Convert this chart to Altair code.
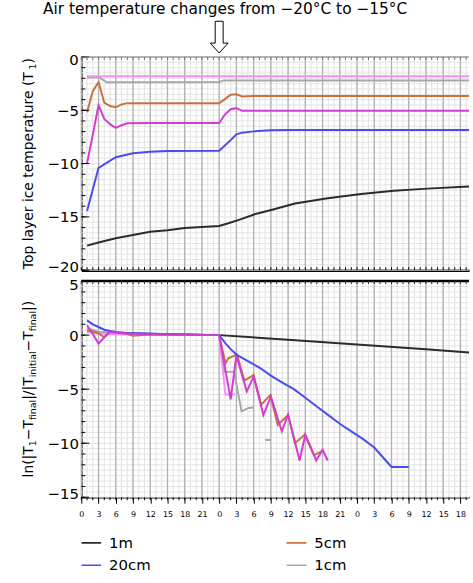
import altair as alt
import pandas as pd

FONT = "DejaVu Sans"

# ---------------- categories / colours ----------------
SERIES = ["1m", "5cm", "20cm", "1cm", "10cm", "2cm"]
COLORS = ["#2b2b2b", "#c8733c", "#4b4bf0", "#a8a8a8", "#d23cd2", "#f590f5"]
LEG_COL = [0, 1, 0, 1, 0, 1]
LEG_ROW = [0, 0, 1, 1, 2, 2]

# ---------------- top panel: temperature (deg C) vs hours ----------------
T_1M_H = [1, 3, 6, 9, 12, 15, 18, 21, 24, 25.6, 27.7, 30.5, 33.4, 37.2, 42.9, 48.7, 54.4, 60.2, 67.5]
T_1M_V = [-17.7, -17.4, -17.0, -16.7, -16.4, -16.25, -16.05, -15.95, -15.85, -15.6, -15.23, -14.7, -14.3, -13.75, -13.25, -12.85, -12.55, -12.35, -12.15]

T_20_H = [1, 3, 6, 9, 12, 15, 24, 25, 26, 27, 28, 30, 33, 36, 67.5]
T_20_V = [-14.45, -10.4, -9.4, -9.03, -8.88, -8.82, -8.8, -8.3, -7.8, -7.25, -7.1, -6.98, -6.88, -6.85, -6.85]

T_10_H = [1, 2, 3, 4, 5, 6, 7, 8, 12, 24, 25, 26, 27, 28, 30, 67.5]
T_10_V = [-9.98, -7.3, -4.52, -5.81, -6.3, -6.65, -6.4, -6.22, -6.2, -6.2, -5.4, -4.9, -4.8, -5.05, -5.05, -5.05]

T_5_H = [1, 2, 3, 4, 5, 6, 7, 8, 24, 25, 26, 27, 28, 30, 67.5]
T_5_V = [-5.19, -3.2, -2.36, -4.28, -4.6, -4.72, -4.45, -4.33, -4.33, -3.95, -3.55, -3.5, -3.7, -3.66, -3.66]

T_1_H = [1, 3, 4.4, 24, 24.8, 67.5]
T_1_V = [-1.95, -1.87, -2.36, -2.35, -2.2, -2.2]

T_2_H = [1, 67.5]
T_2_V = [-1.8, -1.8]

# ---------------- bottom panel: ln(|T1-Tf|/|Ti-Tf|) vs hours ----------------
L_1M_H = [1, 3, 6, 12, 18, 24, 36, 48, 60, 67.5]
L_1M_V = [0.3, 0.25, 0.2, 0.12, 0.06, 0.0, -0.42, -0.86, -1.3, -1.6]

L_20_H = [1, 2, 3, 4, 5, 6, 8, 12, 24, 25, 26, 27, 29, 31, 33, 35, 37, 39, 41, 43, 45, 47, 49, 51, 52, 53, 54, 57]
L_20_V = [1.36, 1.0, 0.75, 0.5, 0.38, 0.3, 0.2, 0.12, 0.0, -0.7, -1.3, -1.8, -2.4, -3.0, -3.75, -4.4, -5.0, -5.8, -6.6, -7.4, -8.2, -8.9, -9.6, -10.4, -11.0, -11.6, -12.2, -12.2]

L_10_H = [1, 2, 3, 4, 5, 6, 8, 12, 24, 26, 27, 28.8, 30, 31.7, 33, 34.9, 36, 38, 39, 40.9, 42, 42.9]
L_10_V = [0.9, 0.1, -0.78, -0.2, 0.3, 0.22, 0.15, 0.08, 0.0, -5.95, -1.9, -5.2, -3.84, -7.4, -5.67, -8.9, -7.35, -11.6, -9.2, -11.6, -10.6, -11.6]

L_5_H = [1, 2, 3, 4, 5, 6, 7, 8, 9, 12, 24, 25.1, 25.6, 27.1, 28.4, 30, 31.3, 32.9, 34.2, 36, 37.2, 38.9, 40.5, 42]
L_5_V = [0.45, 0.35, 0.15, -0.2, 0.35, 0.25, 0.2, 0.1, -0.05, 0.05, 0.0, -2.6, -2.15, -1.8, -4.2, -3.7, -6.45, -5.55, -8.3, -7.4, -10.0, -9.2, -11.1, -10.7]

L_1_H = [1, 2, 3, 4, 5, 6, 8, 24, 24.9, 26.6, 27.9, 29.1, 30]
L_1_V = [0.6, 0.5, 0.3, 0.25, 0.2, 0.15, 0.1, 0.0, -3.4, -3.4, -7.05, -6.74, -6.7]
L_1B_H = [32, 33]
L_1B_V = [-9.7, -9.7]

L_2_H = [1, 2, 3, 5, 9, 24, 25.1, 26.8]
L_2_V = [0.3, 0.2, 0.15, 0.1, 0.05, 0.0, -5.5, -5.5]

TOP = {
    "1m": [(T_1M_H, T_1M_V)], "1cm": [(T_1_H, T_1_V)], "2cm": [(T_2_H, T_2_V)],
    "5cm": [(T_5_H, T_5_V)], "20cm": [(T_20_H, T_20_V)], "10cm": [(T_10_H, T_10_V)],
}
BOT = {
    "1m": [(L_1M_H, L_1M_V)], "1cm": [(L_1_H, L_1_V), (L_1B_H, L_1B_V)], "2cm": [(L_2_H, L_2_V)],
    "5cm": [(L_5_H, L_5_V)], "20cm": [(L_20_H, L_20_V)], "10cm": [(L_10_H, L_10_V)],
}


def to_long(d):
    rows = []
    for name, segs in d.items():
        for si, (hs, vs) in enumerate(segs):
            for i, (h, v) in enumerate(zip(hs, vs)):
                rows.append(dict(series=name, seg=f"{name}-{si}", h=h, v=v, i=i))
    return pd.DataFrame(rows)


# ---------------- layout ----------------
XMAX = 67.5
W = 391
H_TOP = 215
H_BOT = 218
H_LEG = 72

xs = alt.Scale(domain=[0, XMAX], nice=False, zero=False)
cs = alt.Scale(domain=SERIES, range=COLORS)
ONE = pd.DataFrame({"a": [0]})

ADV = {'l': 278, 'n': 634, '(': 390, ')': 390, '|': 337, 'T': 611, '1': 636, '−': 838, 'f': 352,
       'i': 278, 'a': 613, '/': 337, 't': 392, 'o': 612, 'p': 635, ' ': 318, 'y': 592, 'e': 615,
       'r': 411, 'c': 550, 'm': 974, 'u': 634}
MAIN, SUB, SUBSHIFT, BASEX = 14, 9.5, 3.5, -49


def vtitle(pieces, center):
    sizes = [SUB if s else MAIN for _, s in pieces]
    widths = [sum(ADV.get(ch, 600) for ch in t) * sz / 1000 for (t, _), sz in zip(pieces, sizes)]
    total = sum(widths)
    rows, cum = [], 0
    for (t, s), sz, w in zip(pieces, sizes, widths):
        rows.append(dict(txt=t, px=BASEX + (SUBSHIFT if s else 0), py=center + total / 2 - cum, fs=sz))
        cum += w
    return alt.Chart(pd.DataFrame(rows)).mark_text(
        angle=270, align="left", baseline="alphabetic", font=FONT, color="black"
    ).encode(
        x=alt.X("px:Q", scale=None, axis=None), y=alt.Y("py:Q", scale=None, axis=None),
        size=alt.Size("fs:Q", scale=None, legend=None), text="txt:N"
    )


def panel(d, ymin, ymax, height, bottom_axis):
    ys = alt.Scale(domain=[ymin, ymax], nice=False, zero=False)
    if bottom_axis:
        xaxis = alt.Axis(values=list(range(0, 67, 3)), labelExpr="datum.value % 24", tickSize=6,
                         tickColor="black", tickWidth=1, labelFontSize=8, labelFont=FONT,
                         labelColor="black", labelPadding=7, domainColor="black", domainWidth=1.5,
                         labelFlush=False, labelOverlap=False, title=None, grid=False)
    else:
        xaxis = alt.Axis(labels=False, ticks=False, tickSize=0, domainColor="black", domainWidth=2.5,
                         title=None, grid=False)
    yaxis = alt.Axis(values=list(range(ymin, ymax + 1, 5)), ticks=False, tickSize=0, labelFontSize=15,
                     labelFont=FONT, labelColor="black", labelPadding=3, domainColor="black",
                     domainWidth=1.5, title=None, grid=False, labelOverlap=False, labelFlush=True,
                     labelFlushOffset=4)
    X = lambda f: alt.X(f, scale=xs, axis=xaxis)
    Y = lambda f: alt.Y(f, scale=ys, axis=yaxis)

    minor_x = pd.DataFrame({"h": list(range(0, 68))})
    major_x = pd.DataFrame({"h": list(range(0, 67, 3))})
    hgrid = pd.DataFrame({"v": [ymin + 0.5 * k for k in range(int((ymax - ymin) * 2) + 1)]})
    yt = pd.DataFrame({"v": list(range(ymin, ymax + 1))})
    yt5 = pd.DataFrame({"v": list(range(ymin, ymax + 1, 5))})

    lines = alt.Chart(to_long(d)).mark_line(strokeWidth=2).encode(
        x=X("h:Q"), y=Y("v:Q"),
        color=alt.Color("series:N", scale=cs, legend=None),
        detail="seg:N", order="i:Q")
    g_minor = alt.Chart(minor_x).mark_rule(color="#e3e3e3", strokeWidth=1).encode(x=X("h:Q"))
    g_h = alt.Chart(hgrid).mark_rule(color="#e3e3e3", strokeWidth=1).encode(y=Y("v:Q"))
    g_major = alt.Chart(major_x).mark_rule(color="#b0b0b0", strokeWidth=1.3).encode(x=X("h:Q"))

    ytick = alt.Chart(yt).mark_rule(color="black", strokeWidth=1).encode(
        y=Y("v:Q"), x=alt.value(0), x2=alt.value(4))
    ytick5 = alt.Chart(yt5).mark_rule(color="black", strokeWidth=1).encode(
        y=Y("v:Q"), x=alt.value(0), x2=alt.value(8))
    if bottom_axis:
        top_edge = alt.Chart(ONE).mark_rule(color="black", strokeWidth=2.5).encode(
            x=alt.value(0), x2=alt.value(W), y=alt.value(0))
        top_ticks = alt.Chart(minor_x).mark_rule(color="#333333", strokeWidth=1).encode(
            x=X("h:Q"), y=alt.value(0), y2=alt.value(3))
        bt = alt.Chart(minor_x).mark_rule(color="black", strokeWidth=1).encode(
            x=X("h:Q"), y=alt.value(height), y2=alt.value(height + 3))
    else:
        top_edge = alt.Chart(ONE).mark_rule(color="#777777", strokeWidth=1.2).encode(
            x=alt.value(0), x2=alt.value(W), y=alt.value(0))
        top_ticks = alt.Chart(minor_x).mark_rule(color="#777777", strokeWidth=1).encode(
            x=X("h:Q"), y=alt.value(0), y2=alt.value(3))
        bt = alt.Chart(minor_x).mark_rule(color="black", strokeWidth=1).encode(
            x=X("h:Q"), y=alt.value(height), y2=alt.value(height - 3))
    return [lines, g_minor, g_h, g_major, ytick, ytick5, top_edge, top_ticks, bt], X


# top panel
top_layers, XT = panel(TOP, -20, 0, H_TOP, False)
title = alt.Chart(ONE).mark_text(
    text="Air temperature changes from −20°C to −15°C", fontSize=15.5, font=FONT, color="black",
    align="center", baseline="middle").encode(x=alt.value(145), y=alt.value(-48))
ARROW = "M -0.25 -1 L 0.25 -1 L 0.25 0.375 L 0.5625 0.375 L 0 1 L -0.5625 0.375 L -0.25 0.375 Z"
arrow = alt.Chart(pd.DataFrame({"h": [24]})).mark_point(
    shape=ARROW, size=1024, filled=False, stroke="black", strokeWidth=1, opacity=1).encode(
    x=XT("h:Q"), y=alt.value(-20))
top_title = vtitle([("Top layer ice temperature (T", 0), ("1", 1), (")", 0)], H_TOP / 2)
tl = top_layers
top_chart = alt.layer(tl[1], tl[2], tl[3], tl[0], *tl[4:], title, arrow, top_title).properties(
    width=W, height=H_TOP)

# bottom panel
bot_layers, XB = panel(BOT, -15, 5, H_BOT, True)
bot_title = vtitle([("ln(|T", 0), ("1", 1), ("−T", 0), ("final", 1), ("|/|T", 0), ("initial", 1),
                    ("−T", 0), ("final", 1), ("|)", 0)], H_BOT / 2)
bl = bot_layers
bot_chart = alt.layer(bl[1], bl[2], bl[3], bl[0], *bl[4:], bot_title).properties(width=W, height=H_BOT)

# legend panel
leg = pd.DataFrame({"series": SERIES, "col": LEG_COL, "row": LEG_ROW})
lx = alt.X("col:Q", scale=alt.Scale(domain=[0, 1], range=[0, 207]), axis=None)
ly = alt.Y("row:Q", scale=alt.Scale(domain=[0, 2], range=[35, 80]), axis=None)
leg_sym = alt.Chart(leg).mark_point(shape="stroke", size=400, strokeWidth=1.6, xOffset=10,
                                    opacity=1, clip=True).encode(
    x=lx, y=ly, color=alt.Color("series:N", scale=cs, legend=None))
leg_txt = alt.Chart(leg).mark_text(align="left", baseline="middle", dx=28, fontSize=15, font=FONT,
                                   color="black", clip=True).encode(x=lx, y=ly, text="series:N")
leg_chart = alt.layer(leg_sym, leg_txt).properties(width=W, height=H_LEG)

chart = alt.vconcat(top_chart, bot_chart, leg_chart, spacing=11, bounds="flush").properties(
    padding={"left": 21, "top": 0, "right": 0, "bottom": 0}
).configure_view(stroke=None)

chart.save("out.html", embed_options={"renderer": "svg", "actions": False})
